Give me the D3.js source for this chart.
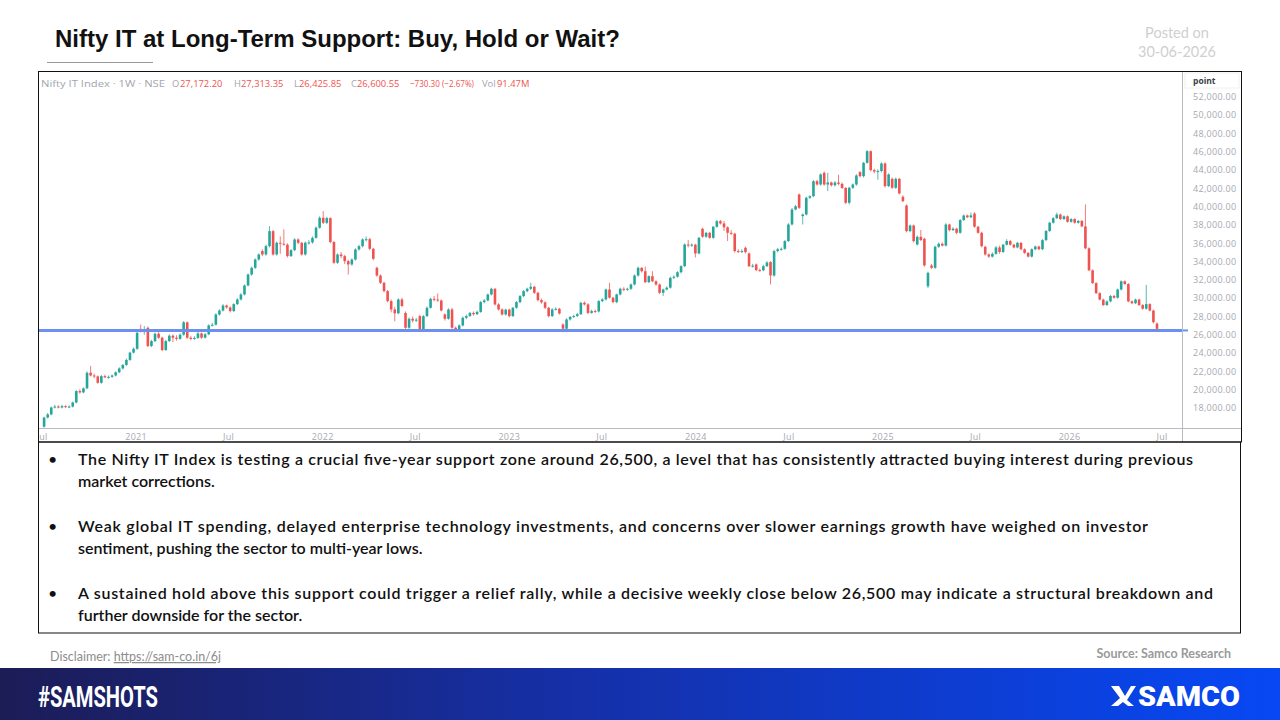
<!DOCTYPE html>
<html><head><meta charset="utf-8">
<script src="https://cdn.jsdelivr.net/npm/d3@7"></script>
<style>
body{margin:0;background:#fff;}
svg{display:block;}
</style></head><body>
<svg id="c" width="1280" height="720"></svg>
<script>
// ---------------- DATA ----------------
const firstWeek = "2020-07-06"; // weekly candles, one per week from this Monday
const opens = [
15900,16900,17240,18000,18100,18000,18150,18050,18100,18550,
19800,19650,20100,21800,21500,21400,20700,21430,21300,21350,
21500,21850,22270,22650,23200,24000,24420,26600,26350,26720,
24720,25260,26060,25630,24280,25260,25850,25630,25500,25960,
27310,25630,25500,25600,26100,25630,26000,26970,27050,28170,
28600,29150,28940,28540,29300,29810,30360,31340,32540,33270,
34180,35100,34730,35640,37280,34730,36010,35900,35800,34550,
35200,36370,36000,34730,36010,36050,36550,37650,38740,38190,
38700,36090,33820,34730,34550,34000,33640,34180,35280,35640,
36370,36400,35350,33270,32430,31630,30720,29630,28720,28300,
29810,28340,26720,27700,27500,27990,26350,27990,28900,29880,
29800,29700,28170,27700,28720,26720,26530,26970,27810,28000,
28340,28200,28450,29520,29700,30360,30980,29270,28720,28170,
28700,27990,28900,29520,30180,30720,30980,31200,30540,29740,
29500,28900,27990,28720,28790,27080,26610,27630,27900,28000,
28200,29450,29270,28340,28540,28500,29630,29810,30900,30000,
29520,30360,30980,30900,30980,31450,32430,33270,32900,31700,
32360,31800,31450,30540,30900,31100,32180,32300,32790,33450,
35820,35700,35800,34840,37540,36670,37100,36550,37760,38370,
38120,37700,37100,37000,35100,35050,35460,34840,33450,33640,
33020,33000,33450,33900,32430,35100,35300,35350,36190,38010,
39650,41290,38920,39100,40930,41100,42740,42380,43660,42380,
42600,42300,42600,42450,42000,40380,42020,42380,43730,43290,
44750,46020,43950,43800,43850,44680,42200,43000,42020,43000,
41040,40090,37280,37900,35820,36660,36450,31260,33530,33270,
35570,35900,35700,38010,37390,37550,37100,38490,38990,38800,
39210,37760,37100,35570,34730,34500,34800,35500,35000,35800,
36200,35800,35500,36000,35300,34900,34500,35300,35600,35300,
36300,37300,38200,38700,39100,38600,38900,38300,38600,38200,
38400,37800,35400,33000,31600,30500,29800,29200,29600,30200,
30000,30900,31800,31500,29600,29400,29800,29200,28800,29300,
28600,27172.20];
const highs = [
17000,17400,18100,18300,18250,18300,18250,18250,18650,19900,
20000,20200,21950,22530,21700,21500,21550,21600,21500,21600,
21950,22400,22750,23350,24100,24550,26300,27080,26900,26850,
25400,26200,26250,25750,25400,26000,26000,25900,26100,27450,
27400,25800,25800,26250,26200,26150,27100,27250,28300,28750,
29300,29250,29050,29400,29950,30500,31450,32650,33400,34300,
34850,35300,35800,37830,37400,36150,36700,37470,35950,35300,
36500,36500,36100,36150,36300,36700,37800,38900,39470,38850,
38800,36200,34850,35000,34700,34150,34300,35400,35800,36500,
36700,36550,35450,33400,32550,31750,30850,29800,29000,29950,
30000,28500,27850,27950,27800,28150,28100,29050,30000,30200,
30470,29800,28300,28850,28900,26850,27100,27950,28150,28450,
28500,28600,29650,29850,30450,31100,31050,29400,28850,28800,
28800,29000,29650,30300,30850,31100,31630,31300,30650,29900,
29600,29000,28850,28950,28900,27200,27750,28000,28150,28350,
29550,29600,29400,28700,28700,29750,29950,31000,31630,30100,
30450,31100,31150,31100,31550,32550,33400,33350,33400,32450,
32900,31900,31550,31000,31250,32300,32450,32900,33550,35950,
36300,35950,35900,36650,37650,37200,37200,37850,38500,38500,
38400,37800,37400,37100,35300,35300,35600,34950,33700,33750,
33200,33600,34000,34000,35250,35450,35500,36300,38150,39800,
40150,41400,39200,41050,41200,42850,42900,43600,43800,43660,
42700,42750,43450,42600,42100,42150,42500,43500,43850,44850,
46150,46100,44100,44050,44800,44800,43600,43150,43150,43100,
41200,40200,38000,38000,36800,37400,36550,32850,33700,35700,
36050,36050,38150,38100,37700,37650,38600,39100,39100,39300,
39350,37850,37200,35700,34850,34950,35650,35700,35900,36400,
36300,35900,36100,36100,35400,35000,35400,35700,35700,36400,
37400,38300,38800,39300,39200,39000,39000,38700,38700,38500,
38500,40200,35500,33100,31700,30600,29900,29700,30300,30300,
31000,31900,31900,31600,29700,29900,29900,29300,31400,29400,
28700,27313.35];
const lows = [
15800,16800,17150,17900,17900,17900,17950,17950,18000,18450,
19500,19550,20000,21400,21200,20600,20600,21200,21150,21250,
21400,21750,22150,22550,23100,23900,24300,26200,25950,24600,
24600,25150,25500,24150,24200,25150,25150,25300,25400,25850,
25500,25350,25400,25500,25500,25550,25900,26850,26950,28050,
28500,28800,28400,28450,29200,29700,30250,31250,32400,33150,
34050,34550,34600,35500,34600,34600,34800,35700,34400,34450,
35100,35850,34600,34600,35800,35900,36450,37550,38050,38050,
35950,33700,33700,34300,33700,32540,33500,34050,35150,35500,
36150,35200,34100,32300,31500,30600,29500,28400,27420,28200,
28950,26600,26600,27300,27350,26240,26250,27900,28800,29600,
29550,28500,27500,27600,26600,26300,26350,26850,27650,27900,
28050,28100,28350,29400,29600,30250,29150,28600,28050,28050,
27850,27900,28800,29400,30050,30600,30850,30400,29600,29350,
28750,27850,27900,28600,28150,26240,26500,27500,27800,27900,
28100,29150,28200,28250,28350,28400,29500,29700,29900,29400,
29400,30250,30700,30750,30850,31350,32300,32750,31600,31600,
31700,31300,30400,30200,30800,31000,32050,32200,32650,33350,
35500,35550,34400,34750,36550,36550,36450,36450,37650,38000,
37300,36200,36850,34950,34900,34900,34850,33350,33300,32900,
32850,32900,33350,31450,32300,34950,35150,35250,36100,37900,
39550,39700,38010,39000,40800,41000,42250,42250,42250,41660,
42150,42150,42300,41900,40250,40200,41900,42250,43150,43150,
44650,43800,43600,42900,43700,42050,42100,41900,41900,41300,
40450,37150,37150,36050,35700,36200,33400,31050,33150,33150,
35450,35600,35600,37250,37300,36950,37000,38400,38700,38700,
37650,37000,35500,34600,34350,34400,34700,34800,34900,35700,
35700,35400,35400,35200,34800,34400,34400,35200,35200,35200,
36200,37200,38100,38600,38500,38500,38200,38200,38100,38100,
37700,35300,32900,31500,30400,29700,29100,29100,29500,29900,
29900,30800,31400,29500,29300,29300,29100,28700,28700,28500,
27200,26425.85];
const closes = [
16900,17240,18000,18100,18000,18150,18050,18100,18550,19800,
19650,20100,21800,21500,21400,20700,21430,21300,21350,21500,
21850,22270,22650,23200,24000,24420,26170,26350,26500,24720,
25260,26060,25630,24280,25260,25850,25630,25500,25960,27310,
25630,25500,25600,26100,25630,26000,26970,27050,28170,28600,
29150,28940,28540,29300,29810,30360,31340,32540,33270,34180,
34730,34730,35640,37280,34730,36010,35900,35800,34550,35200,
36370,36000,34730,36010,36050,36550,37650,38740,38190,38700,
36090,33820,34730,34550,34000,33640,34180,35280,35640,36370,
36400,35350,34260,32430,31630,30720,29630,28720,28300,29810,
29100,26720,27700,27500,27600,26350,27990,28900,29880,29800,
29700,28610,27700,28720,26720,26530,26970,27810,28000,28340,
28200,28450,29520,29700,30360,30980,29270,28720,28170,28700,
27990,28900,29520,30180,30720,30980,31200,30540,29740,29500,
28900,27990,28720,28790,28280,26610,27630,27900,28000,28200,
29450,29270,28340,28540,28500,29630,29810,30900,30000,29520,
30360,30980,30900,30980,31450,32430,33270,32900,31700,32360,
31800,31450,30540,30900,31100,32180,32300,32790,33450,35820,
35700,35800,34840,36550,36670,37100,36550,37760,38370,38120,
37700,37100,37000,35100,35050,35100,34990,33450,33500,33020,
33000,33450,33850,32430,35100,35300,35350,36190,38010,39650,
40000,39830,39100,40930,41100,42740,42380,43480,42380,42600,
42300,42600,42450,42000,40380,42020,42380,43370,43290,44750,
46020,43950,43800,43850,44680,42200,43480,42020,43000,41400,
40560,37280,37900,36190,36660,36300,33530,32720,33270,35570,
35900,35700,38010,37390,37550,37100,38490,38990,38800,39000,
37760,37100,35640,34730,34500,34800,35500,35000,35800,36200,
35800,35500,36000,35300,34900,34500,35300,35600,35300,36300,
37300,38200,38700,39100,38600,38900,38300,38600,38200,38400,
37800,35400,33000,31600,30500,29800,29200,29600,30200,30000,
30900,31800,31500,29600,29400,29800,29200,28800,29300,28600,
27330,26600.55];
const supportLevel = 26425.85;
const yTickValues = [18000,20000,22000,24000,26000,28000,30000,32000,34000,36000,38000,40000,42000,44000,46000,48000,50000,52000];
const xTickDates = ["2020-07-01","2021-01-01","2021-07-01","2022-01-01","2022-07-01","2023-01-01","2023-07-01","2024-01-01","2024-07-01","2025-01-01","2025-07-01","2026-01-01","2026-07-01"];
const headerParts = [
  {t:"Nifty IT Index · 1W · NSE", c:"#a3a6ad", x:41, w:124},
  {t:"O", c:"#a3a6ad", x:172},{t:"27,172.20", c:"#ef5350", x:180},
  {t:"H", c:"#a3a6ad", x:234},{t:"27,313.35", c:"#ef5350", x:241},
  {t:"L", c:"#a3a6ad", x:294},{t:"26,425.85", c:"#ef5350", x:299},
  {t:"C", c:"#a3a6ad", x:351},{t:"26,600.55", c:"#ef5350", x:357},
  {t:"−730.30 (−2.67%)", c:"#ef5350", x:410, w:64},
  {t:"Vol", c:"#a3a6ad", x:482},{t:"91.47M", c:"#ef5350", x:497}
];
const bullets = [
  ["The Nifty IT Index is testing a crucial five-year support zone around 26,500, a level that has consistently attracted buying interest during previous","market corrections."],
  ["Weak global IT spending, delayed enterprise technology investments, and concerns over slower earnings growth have weighed on investor","sentiment, pushing the sector to multi-year lows."],
  ["A sustained hold above this support could trigger a relief rally, while a decisive weekly close below 26,500 may indicate a structural breakdown and","further downside for the sector."]
];

// ---------------- DRAW ----------------
const svg = d3.select("#c");
const defs = svg.append("defs");
const grad = defs.append("linearGradient").attr("id","band").attr("x1","0").attr("x2","1").attr("y1","0").attr("y2","0");
grad.append("stop").attr("offset","0%").attr("stop-color","#1c1c56");
grad.append("stop").attr("offset","45%").attr("stop-color","#1530a8");
grad.append("stop").attr("offset","100%").attr("stop-color","#0748f4");
defs.append("clipPath").attr("id","plot").append("rect").attr("x",39).attr("y",72).attr("width",1143).attr("height",356);
defs.append("clipPath").attr("id","xlab").append("rect").attr("x",39).attr("y",428).attr("width",1143).attr("height",14);

svg.append("rect").attr("width",1280).attr("height",720).attr("fill","#fff");

// Title
svg.append("text").attr("x",55).attr("y",47).attr("font-family","Liberation Sans, Arial, sans-serif")
  .attr("font-weight","bold").attr("font-size",24).attr("fill","#111")
  .text("Nifty IT at Long-Term Support: Buy, Hold or Wait?");
svg.append("line").attr("x1",47).attr("x2",153).attr("y1",62.5).attr("y2",62.5).attr("stroke","#9a9a9a").attr("stroke-width",1);

// Posted on
svg.append("text").attr("x",1177).attr("y",38).attr("text-anchor","middle").attr("font-family","Lato, sans-serif")
  .attr("font-size",14.5).attr("fill","#cfcfcf").text("Posted on");
svg.append("text").attr("x",1177).attr("y",57).attr("text-anchor","middle").attr("font-family","Lato, sans-serif")
  .attr("font-size",14.5).attr("fill","#cfcfcf").text("30-06-2026");

// Scales
const parse = d3.utcParse("%Y-%m-%d");
const x = d3.scaleUtc().domain([parse("2020-06-28"), parse("2026-08-06")]).range([40,1180]);
const y = d3.scaleLinear().domain([15759, 54678]).range([428,72]);
const start = parse(firstWeek);
const candles = closes.map((c,i)=>({date:d3.utcWeek.offset(start,i), o:opens[i], h:highs[i], l:lows[i], c:c}));

// Chart frame parts
svg.append("line").attr("x1",38).attr("x2",1242).attr("y1",428.5).attr("y2",428.5).attr("stroke","#b8bbc2");
svg.append("line").attr("x1",1182.5).attr("x2",1182.5).attr("y1",72).attr("y2",442).attr("stroke","#b8bbc2");
svg.append("rect").attr("x",1185).attr("y",73).attr("width",54).attr("height",15).attr("fill","#fff").attr("stroke","#f0f0f2");
svg.append("text").attr("x",1193).attr("y",83.5).attr("font-family","Open Sans, sans-serif").attr("font-size",8.5)
  .attr("font-weight","bold").attr("fill","#3a3d45").text("point");

// Header
const hdr = svg.append("text").attr("y",87).attr("font-family","Open Sans, sans-serif").attr("font-size",9.4);
headerParts.forEach(p=>{
  const ts = hdr.append("tspan").attr("x",p.x).attr("fill",p.c).text(p.t);
  if(p.w) ts.attr("textLength",p.w).attr("lengthAdjust","spacingAndGlyphs");
});

// Y axis
const yAxis = d3.axisRight(y).tickValues(yTickValues).tickFormat(d3.format(",.2f")).tickSize(0).tickPadding(0);
const gy = svg.append("g").attr("transform","translate(1193,0)").call(yAxis);
gy.select(".domain").remove();
gy.selectAll("text").attr("font-family","Open Sans, sans-serif").attr("font-size",9).attr("letter-spacing",0.3)
  .attr("fill","#a6a9b1").attr("dy","0.35em");

// X axis
const xAxis = d3.axisBottom(x).tickValues(xTickDates.map(parse)).tickSize(0).tickPadding(6)
  .tickFormat(d => d.getUTCMonth()===0 ? String(d.getUTCFullYear()) : "Jul");
const gxWrap = svg.append("g").attr("clip-path","url(#xlab)");
const gx = gxWrap.append("g").attr("transform","translate(0,428)").call(xAxis);
gx.select(".domain").remove();
gx.selectAll("text").attr("font-family","Open Sans, sans-serif").attr("font-size",9).attr("letter-spacing",0.3).attr("fill","#a6a9b1");

// Candles
const up = "#26a69a", dn = "#ef5350";
const gc = svg.append("g").attr("clip-path","url(#plot)");
gc.selectAll("line.w").data(candles).join("line").attr("class","w")
  .attr("x1",d=>x(d.date)).attr("x2",d=>x(d.date))
  .attr("y1",d=>y(d.h)).attr("y2",d=>y(d.l))
  .attr("stroke",d=>d.c>=d.o?up:dn).attr("stroke-width",0.9).attr("opacity",0.85);
gc.selectAll("rect.b").data(candles).join("rect").attr("class","b")
  .attr("x",d=>x(d.date)-1.3).attr("width",2.6)
  .attr("y",d=>y(Math.max(d.o,d.c)))
  .attr("height",d=>Math.max(1,Math.abs(y(d.o)-y(d.c))))
  .attr("fill",d=>d.c>=d.o?up:dn);

// Support line
svg.append("line").attr("x1",38).attr("x2",1182).attr("y1",y(supportLevel)).attr("y2",y(supportLevel))
  .attr("stroke","#6d8ff0").attr("stroke-width",3);
svg.append("line").attr("x1",1183).attr("x2",1188).attr("y1",y(supportLevel)).attr("y2",y(supportLevel))
  .attr("stroke","#6d8ff0").attr("stroke-width",2);

// Frames
svg.append("rect").attr("x",38.5).attr("y",71.5).attr("width",1203).attr("height",370.5).attr("fill","none").attr("stroke","#111");
svg.append("rect").attr("x",38.5).attr("y",442).attr("width",1202).attr("height",191).attr("fill","none").attr("stroke","#111");

// Bullets
const lineY = [[464.5,486.5],[531.5,553.5],[598.5,620.5]];
const fullW = [1115,1070,1135];
bullets.forEach((b,i)=>{
  svg.append("text").attr("x",48).attr("y",lineY[i][0]).attr("font-family","Lato, sans-serif").attr("font-size",16).attr("fill","#111").text("•");
  b.forEach((ln,j)=>{
    const t = svg.append("text").attr("x",78).attr("y",lineY[i][j]).attr("font-family","Lato, sans-serif")
      .attr("font-size",16).attr("font-weight",600).attr("fill","#111").text(ln);
    if(j===0) t.attr("textLength",fullW[i]).attr("lengthAdjust","spacing");
  });
});

// Footer
const disc = svg.append("text").attr("x",50).attr("y",661).attr("font-family","Lato, sans-serif").attr("font-size",12.5).attr("fill","#8c8c8c");
disc.append("tspan").text("Disclaimer: ");
disc.append("tspan").attr("text-decoration","underline").text("https://sam-co.in/6j");
svg.append("text").attr("x",1231).attr("y",658).attr("text-anchor","end").attr("font-family","Lato, sans-serif")
  .attr("font-size",12.5).attr("font-weight","bold").attr("fill","#9a9a9a").text("Source: Samco Research");

// Banner
svg.append("rect").attr("x",0).attr("y",668).attr("width",1280).attr("height",52).attr("fill","url(#band)");
svg.append("text").attr("x",38).attr("y",707).attr("font-family","Roboto, Liberation Sans, sans-serif").attr("font-weight","bold")
  .attr("font-size",29).attr("fill","#fff").attr("textLength",120).attr("lengthAdjust","spacingAndGlyphs").text("#SAMSHOTS");
svg.append("text").attr("x",1138).attr("y",706).attr("font-family","Roboto, Liberation Sans, sans-serif").attr("font-weight","900")
  .attr("font-size",28).attr("fill","#fff").attr("textLength",102).attr("lengthAdjust","spacingAndGlyphs").text("SAMCO");
// logo mark
svg.append("path").attr("d","M1111,686 L1119,686 L1125,696 L1131,686 L1136,686 L1127,700 L1134,706 L1128,706 L1123,702 L1118,706 L1111,706 L1120,698 Z")
  .attr("fill","#fff");
</script>
</body></html>
